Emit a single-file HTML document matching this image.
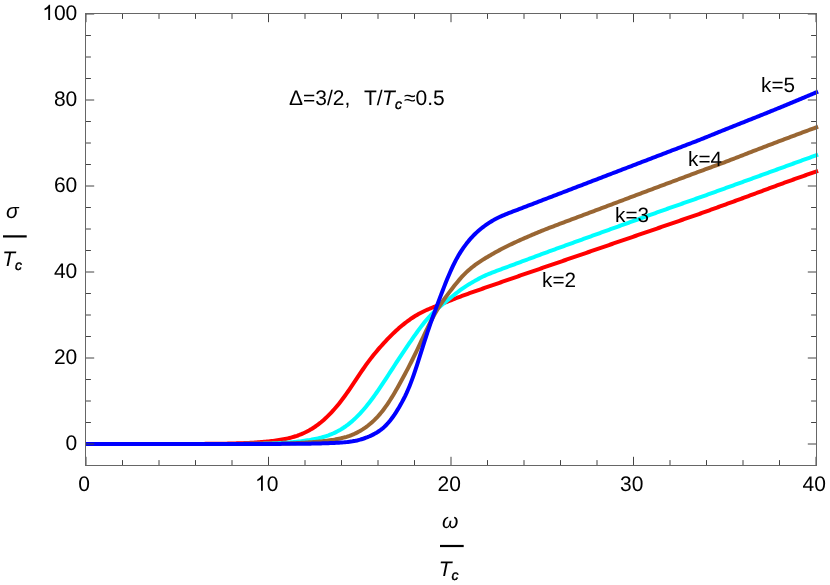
<!DOCTYPE html><html><head><meta charset="utf-8"><style>html,body{margin:0;padding:0;background:#fff}svg{display:block}text{font-family:"Liberation Sans",sans-serif;fill:#000;text-rendering:geometricPrecision}</style></head><body>
<svg width="830" height="585" viewBox="0 0 830 585">
<rect width="830" height="585" fill="#fff"/>
<g fill="none" stroke-width="4" stroke-linejoin="round">
<path d="M85.5,444.00 L87.0,444.00 L88.5,444.00 L90.0,444.00 L91.5,444.00 L93.0,444.00 L94.5,444.00 L96.0,444.00 L97.5,444.00 L99.0,444.00 L100.5,444.00 L102.0,444.00 L103.5,444.00 L105.0,444.00 L106.5,444.00 L108.0,444.00 L109.5,444.00 L111.0,444.00 L112.5,443.99 L114.0,443.99 L115.5,443.99 L117.0,443.99 L118.5,443.99 L120.0,443.99 L121.5,443.99 L123.0,443.99 L124.5,443.99 L126.0,443.99 L127.5,443.99 L129.0,443.99 L130.5,443.99 L132.0,443.99 L133.5,443.99 L135.0,443.99 L136.5,443.99 L138.0,443.99 L139.5,443.99 L141.0,443.99 L142.5,443.99 L144.0,443.99 L145.5,443.99 L147.0,443.98 L148.5,443.98 L150.0,443.98 L151.5,443.98 L153.0,443.98 L154.5,443.98 L156.0,443.98 L157.5,443.98 L159.0,443.98 L160.5,443.98 L162.0,443.98 L163.5,443.97 L165.0,443.97 L166.5,443.97 L168.0,443.97 L169.5,443.97 L171.0,443.97 L172.5,443.97 L174.0,443.96 L175.5,443.96 L177.0,443.96 L178.5,443.96 L180.0,443.95 L181.5,443.95 L183.0,443.95 L184.5,443.95 L186.0,443.94 L187.5,443.94 L189.0,443.94 L190.5,443.93 L192.0,443.93 L193.5,443.92 L195.0,443.92 L196.5,443.91 L198.0,443.91 L199.5,443.90 L201.0,443.89 L202.5,443.89 L204.0,443.88 L205.5,443.87 L207.0,443.86 L208.5,443.85 L210.0,443.84 L211.5,443.82 L213.0,443.81 L214.5,443.80 L216.0,443.78 L217.5,443.76 L219.0,443.75 L220.5,443.73 L222.0,443.70 L223.5,443.68 L225.0,443.66 L226.5,443.63 L228.0,443.60 L229.5,443.57 L231.0,443.53 L232.5,443.50 L234.0,443.46 L235.5,443.42 L237.0,443.37 L238.5,443.33 L240.0,443.28 L241.5,443.22 L243.0,443.16 L244.5,443.10 L246.0,443.03 L247.5,442.96 L249.0,442.89 L250.5,442.80 L252.0,442.72 L253.5,442.63 L255.0,442.53 L256.5,442.43 L258.0,442.32 L259.5,442.21 L261.0,442.09 L262.5,441.96 L264.0,441.83 L265.5,441.70 L267.0,441.55 L268.5,441.40 L270.0,441.24 L271.5,441.08 L273.0,440.90 L274.5,440.71 L276.0,440.51 L277.5,440.30 L279.0,440.07 L280.5,439.83 L282.0,439.57 L283.5,439.29 L285.0,439.00 L286.5,438.68 L288.0,438.34 L289.5,437.98 L291.0,437.59 L292.5,437.18 L294.0,436.74 L295.5,436.27 L297.0,435.78 L298.5,435.25 L300.0,434.68 L301.5,434.08 L303.0,433.45 L304.5,432.77 L306.0,432.05 L307.5,431.28 L309.0,430.47 L310.5,429.61 L312.0,428.71 L313.5,427.75 L315.0,426.75 L316.5,425.69 L318.0,424.59 L319.5,423.44 L321.0,422.24 L322.5,420.98 L324.0,419.67 L325.5,418.32 L327.0,416.91 L328.5,415.44 L330.0,413.92 L331.5,412.35 L333.0,410.72 L334.5,409.03 L336.0,407.29 L337.5,405.49 L339.0,403.64 L340.5,401.73 L342.0,399.78 L343.5,397.77 L345.0,395.72 L346.5,393.63 L348.0,391.51 L349.5,389.35 L351.0,387.15 L352.5,384.94 L354.0,382.70 L355.5,380.44 L357.0,378.18 L358.5,375.93 L360.0,373.68 L361.5,371.45 L363.0,369.25 L364.5,367.08 L366.0,364.96 L367.5,362.89 L369.0,360.86 L370.5,358.89 L372.0,356.96 L373.5,355.07 L375.0,353.23 L376.5,351.43 L378.0,349.67 L379.5,347.93 L381.0,346.23 L382.5,344.56 L384.0,342.92 L385.5,341.30 L387.0,339.71 L388.5,338.15 L390.0,336.61 L391.5,335.11 L393.0,333.63 L394.5,332.20 L396.0,330.79 L397.5,329.43 L399.0,328.10 L400.5,326.81 L402.0,325.55 L403.5,324.33 L405.0,323.14 L406.5,321.99 L408.0,320.87 L409.5,319.78 L411.0,318.73 L412.5,317.72 L414.0,316.74 L415.5,315.81 L417.0,314.91 L418.5,314.05 L420.0,313.23 L421.5,312.45 L423.0,311.70 L424.5,310.99 L426.0,310.30 L427.5,309.64 L429.0,309.00 L430.5,308.37 L432.0,307.76 L433.5,307.15 L435.0,306.55 L436.5,305.95 L438.0,305.36 L439.5,304.76 L441.0,304.17 L442.5,303.57 L444.0,302.98 L445.5,302.39 L447.0,301.79 L448.5,301.20 L450.0,300.61 L451.5,300.02 L453.0,299.43 L454.5,298.84 L456.0,298.25 L457.5,297.67 L459.0,297.09 L460.5,296.52 L462.0,295.96 L463.5,295.40 L465.0,294.84 L466.5,294.30 L468.0,293.76 L469.5,293.22 L471.0,292.69 L472.5,292.17 L474.0,291.64 L475.5,291.12 L477.0,290.59 L478.5,290.07 L480.0,289.55 L481.5,289.03 L483.0,288.51 L484.5,287.98 L486.0,287.46 L487.5,286.94 L489.0,286.42 L490.5,285.90 L492.0,285.38 L493.5,284.86 L495.0,284.33 L496.5,283.81 L498.0,283.29 L499.5,282.77 L501.0,282.25 L502.5,281.73 L504.0,281.21 L505.5,280.68 L507.0,280.16 L508.5,279.64 L510.0,279.12 L511.5,278.60 L513.0,278.08 L514.5,277.56 L516.0,277.04 L517.5,276.52 L519.0,276.00 L520.5,275.48 L522.0,274.96 L523.5,274.44 L525.0,273.93 L526.5,273.41 L528.0,272.89 L529.5,272.38 L531.0,271.86 L532.5,271.35 L534.0,270.83 L535.5,270.31 L537.0,269.80 L538.5,269.28 L540.0,268.77 L541.5,268.25 L543.0,267.73 L544.5,267.22 L546.0,266.70 L547.5,266.19 L549.0,265.67 L550.5,265.15 L552.0,264.64 L553.5,264.12 L555.0,263.61 L556.5,263.09 L558.0,262.57 L559.5,262.06 L561.0,261.54 L562.5,261.03 L564.0,260.51 L565.5,259.99 L567.0,259.48 L568.5,258.96 L570.0,258.45 L571.5,257.93 L573.0,257.41 L574.5,256.90 L576.0,256.38 L577.5,255.87 L579.0,255.35 L580.5,254.83 L582.0,254.32 L583.5,253.80 L585.0,253.29 L586.5,252.77 L588.0,252.25 L589.5,251.74 L591.0,251.22 L592.5,250.71 L594.0,250.19 L595.5,249.67 L597.0,249.16 L598.5,248.64 L600.0,248.13 L601.5,247.61 L603.0,247.09 L604.5,246.58 L606.0,246.06 L607.5,245.55 L609.0,245.03 L610.5,244.51 L612.0,244.00 L613.5,243.48 L615.0,242.97 L616.5,242.45 L618.0,241.93 L619.5,241.42 L621.0,240.90 L622.5,240.39 L624.0,239.87 L625.5,239.35 L627.0,238.84 L628.5,238.32 L630.0,237.81 L631.5,237.29 L633.0,236.77 L634.5,236.26 L636.0,235.74 L637.5,235.23 L639.0,234.71 L640.5,234.19 L642.0,233.68 L643.5,233.16 L645.0,232.65 L646.5,232.13 L648.0,231.61 L649.5,231.10 L651.0,230.58 L652.5,230.07 L654.0,229.55 L655.5,229.03 L657.0,228.52 L658.5,228.00 L660.0,227.49 L661.5,226.97 L663.0,226.45 L664.5,225.94 L666.0,225.42 L667.5,224.91 L669.0,224.39 L670.5,223.87 L672.0,223.36 L673.5,222.84 L675.0,222.33 L676.5,221.81 L678.0,221.29 L679.5,220.78 L681.0,220.26 L682.5,219.75 L684.0,219.23 L685.5,218.71 L687.0,218.20 L688.5,217.68 L690.0,217.16 L691.5,216.65 L693.0,216.13 L694.5,215.61 L696.0,215.09 L697.5,214.57 L699.0,214.04 L700.5,213.51 L702.0,212.97 L703.5,212.44 L705.0,211.90 L706.5,211.36 L708.0,210.81 L709.5,210.27 L711.0,209.73 L712.5,209.18 L714.0,208.64 L715.5,208.09 L717.0,207.55 L718.5,207.00 L720.0,206.46 L721.5,205.91 L723.0,205.37 L724.5,204.82 L726.0,204.28 L727.5,203.73 L729.0,203.19 L730.5,202.64 L732.0,202.10 L733.5,201.55 L735.0,201.00 L736.5,200.45 L738.0,199.90 L739.5,199.35 L741.0,198.80 L742.5,198.25 L744.0,197.70 L745.5,197.14 L747.0,196.59 L748.5,196.03 L750.0,195.48 L751.5,194.92 L753.0,194.36 L754.5,193.81 L756.0,193.25 L757.5,192.69 L759.0,192.13 L760.5,191.57 L762.0,191.01 L763.5,190.46 L765.0,189.90 L766.5,189.34 L768.0,188.78 L769.5,188.23 L771.0,187.67 L772.5,187.12 L774.0,186.56 L775.5,186.01 L777.0,185.46 L778.5,184.91 L780.0,184.36 L781.5,183.81 L783.0,183.26 L784.5,182.72 L786.0,182.18 L787.5,181.64 L789.0,181.10 L790.5,180.56 L792.0,180.02 L793.5,179.49 L795.0,178.95 L796.5,178.42 L798.0,177.89 L799.5,177.36 L801.0,176.83 L802.5,176.30 L804.0,175.78 L805.5,175.25 L807.0,174.73 L808.5,174.21 L810.0,173.69 L811.5,173.17 L813.0,172.66 L814.5,172.14 L816.0,171.63 L816.5,171.46 L818.1,170.90" stroke="#ff0000"/>
<path d="M85.5,444.00 L87.0,444.00 L88.5,444.00 L90.0,444.00 L91.5,444.00 L93.0,444.00 L94.5,444.00 L96.0,444.00 L97.5,444.00 L99.0,444.00 L100.5,444.00 L102.0,444.00 L103.5,444.00 L105.0,444.00 L106.5,444.00 L108.0,444.00 L109.5,444.00 L111.0,444.00 L112.5,444.00 L114.0,444.00 L115.5,444.00 L117.0,444.00 L118.5,443.99 L120.0,443.99 L121.5,443.99 L123.0,443.99 L124.5,443.99 L126.0,443.99 L127.5,443.99 L129.0,443.99 L130.5,443.99 L132.0,443.99 L133.5,443.99 L135.0,443.99 L136.5,443.99 L138.0,443.99 L139.5,443.99 L141.0,443.99 L142.5,443.99 L144.0,443.99 L145.5,443.99 L147.0,443.99 L148.5,443.99 L150.0,443.99 L151.5,443.99 L153.0,443.99 L154.5,443.99 L156.0,443.99 L157.5,443.99 L159.0,443.99 L160.5,443.99 L162.0,443.99 L163.5,443.99 L165.0,443.99 L166.5,443.99 L168.0,443.99 L169.5,443.99 L171.0,443.99 L172.5,443.99 L174.0,443.98 L175.5,443.98 L177.0,443.98 L178.5,443.98 L180.0,443.98 L181.5,443.98 L183.0,443.98 L184.5,443.98 L186.0,443.98 L187.5,443.98 L189.0,443.98 L190.5,443.98 L192.0,443.98 L193.5,443.98 L195.0,443.98 L196.5,443.98 L198.0,443.98 L199.5,443.97 L201.0,443.97 L202.5,443.97 L204.0,443.97 L205.5,443.97 L207.0,443.97 L208.5,443.97 L210.0,443.97 L211.5,443.96 L213.0,443.96 L214.5,443.96 L216.0,443.96 L217.5,443.96 L219.0,443.95 L220.5,443.95 L222.0,443.95 L223.5,443.95 L225.0,443.94 L226.5,443.94 L228.0,443.94 L229.5,443.93 L231.0,443.93 L232.5,443.92 L234.0,443.92 L235.5,443.91 L237.0,443.91 L238.5,443.90 L240.0,443.89 L241.5,443.89 L243.0,443.88 L244.5,443.87 L246.0,443.86 L247.5,443.85 L249.0,443.83 L250.5,443.82 L252.0,443.80 L253.5,443.79 L255.0,443.77 L256.5,443.75 L258.0,443.72 L259.5,443.70 L261.0,443.67 L262.5,443.64 L264.0,443.61 L265.5,443.58 L267.0,443.54 L268.5,443.50 L270.0,443.46 L271.5,443.41 L273.0,443.36 L274.5,443.30 L276.0,443.24 L277.5,443.17 L279.0,443.10 L280.5,443.03 L282.0,442.95 L283.5,442.86 L285.0,442.76 L286.5,442.66 L288.0,442.55 L289.5,442.44 L291.0,442.31 L292.5,442.18 L294.0,442.04 L295.5,441.89 L297.0,441.73 L298.5,441.57 L300.0,441.39 L301.5,441.20 L303.0,441.01 L304.5,440.80 L306.0,440.58 L307.5,440.35 L309.0,440.11 L310.5,439.86 L312.0,439.59 L313.5,439.30 L315.0,439.00 L316.5,438.69 L318.0,438.35 L319.5,437.99 L321.0,437.61 L322.5,437.20 L324.0,436.77 L325.5,436.30 L327.0,435.81 L328.5,435.29 L330.0,434.72 L331.5,434.13 L333.0,433.49 L334.5,432.81 L336.0,432.09 L337.5,431.33 L339.0,430.51 L340.5,429.65 L342.0,428.74 L343.5,427.78 L345.0,426.77 L346.5,425.70 L348.0,424.58 L349.5,423.40 L351.0,422.17 L352.5,420.88 L354.0,419.53 L355.5,418.12 L357.0,416.66 L358.5,415.14 L360.0,413.57 L361.5,411.94 L363.0,410.25 L364.5,408.51 L366.0,406.71 L367.5,404.86 L369.0,402.96 L370.5,401.00 L372.0,399.00 L373.5,396.95 L375.0,394.86 L376.5,392.73 L378.0,390.56 L379.5,388.36 L381.0,386.14 L382.5,383.89 L384.0,381.62 L385.5,379.33 L387.0,377.04 L388.5,374.73 L390.0,372.42 L391.5,370.11 L393.0,367.79 L394.5,365.48 L396.0,363.17 L397.5,360.87 L399.0,358.58 L400.5,356.31 L402.0,354.04 L403.5,351.79 L405.0,349.56 L406.5,347.34 L408.0,345.13 L409.5,342.94 L411.0,340.76 L412.5,338.60 L414.0,336.46 L415.5,334.34 L417.0,332.24 L418.5,330.17 L420.0,328.14 L421.5,326.15 L423.0,324.22 L424.5,322.34 L426.0,320.53 L427.5,318.78 L429.0,317.11 L430.5,315.50 L432.0,313.96 L433.5,312.48 L435.0,311.05 L436.5,309.67 L438.0,308.33 L439.5,307.02 L441.0,305.73 L442.5,304.46 L444.0,303.20 L445.5,301.95 L447.0,300.70 L448.5,299.47 L450.0,298.23 L451.5,297.01 L453.0,295.79 L454.5,294.58 L456.0,293.39 L457.5,292.22 L459.0,291.08 L460.5,289.97 L462.0,288.89 L463.5,287.85 L465.0,286.84 L466.5,285.87 L468.0,284.93 L469.5,284.01 L471.0,283.11 L472.5,282.23 L474.0,281.37 L475.5,280.52 L477.0,279.69 L478.5,278.88 L480.0,278.09 L481.5,277.33 L483.0,276.58 L484.5,275.87 L486.0,275.19 L487.5,274.53 L489.0,273.90 L490.5,273.29 L492.0,272.69 L493.5,272.11 L495.0,271.54 L496.5,270.97 L498.0,270.41 L499.5,269.85 L501.0,269.29 L502.5,268.73 L504.0,268.18 L505.5,267.62 L507.0,267.06 L508.5,266.50 L510.0,265.94 L511.5,265.39 L513.0,264.83 L514.5,264.27 L516.0,263.71 L517.5,263.15 L519.0,262.60 L520.5,262.04 L522.0,261.48 L523.5,260.92 L525.0,260.37 L526.5,259.81 L528.0,259.25 L529.5,258.69 L531.0,258.13 L532.5,257.58 L534.0,257.02 L535.5,256.46 L537.0,255.90 L538.5,255.35 L540.0,254.79 L541.5,254.23 L543.0,253.68 L544.5,253.12 L546.0,252.57 L547.5,252.02 L549.0,251.47 L550.5,250.92 L552.0,250.37 L553.5,249.82 L555.0,249.27 L556.5,248.72 L558.0,248.18 L559.5,247.64 L561.0,247.09 L562.5,246.55 L564.0,246.01 L565.5,245.47 L567.0,244.92 L568.5,244.38 L570.0,243.84 L571.5,243.30 L573.0,242.76 L574.5,242.22 L576.0,241.68 L577.5,241.14 L579.0,240.60 L580.5,240.06 L582.0,239.52 L583.5,238.98 L585.0,238.44 L586.5,237.90 L588.0,237.35 L589.5,236.81 L591.0,236.27 L592.5,235.73 L594.0,235.19 L595.5,234.65 L597.0,234.11 L598.5,233.57 L600.0,233.03 L601.5,232.49 L603.0,231.95 L604.5,231.41 L606.0,230.87 L607.5,230.33 L609.0,229.79 L610.5,229.24 L612.0,228.70 L613.5,228.16 L615.0,227.62 L616.5,227.08 L618.0,226.54 L619.5,226.00 L621.0,225.46 L622.5,224.92 L624.0,224.38 L625.5,223.84 L627.0,223.30 L628.5,222.76 L630.0,222.22 L631.5,221.68 L633.0,221.13 L634.5,220.59 L636.0,220.05 L637.5,219.51 L639.0,218.97 L640.5,218.43 L642.0,217.89 L643.5,217.35 L645.0,216.81 L646.5,216.27 L648.0,215.73 L649.5,215.19 L651.0,214.65 L652.5,214.11 L654.0,213.57 L655.5,213.03 L657.0,212.49 L658.5,211.95 L660.0,211.42 L661.5,210.88 L663.0,210.35 L664.5,209.81 L666.0,209.28 L667.5,208.75 L669.0,208.22 L670.5,207.70 L672.0,207.17 L673.5,206.64 L675.0,206.12 L676.5,205.59 L678.0,205.07 L679.5,204.54 L681.0,204.02 L682.5,203.49 L684.0,202.97 L685.5,202.44 L687.0,201.92 L688.5,201.39 L690.0,200.87 L691.5,200.34 L693.0,199.81 L694.5,199.29 L696.0,198.76 L697.5,198.23 L699.0,197.70 L700.5,197.17 L702.0,196.63 L703.5,196.10 L705.0,195.56 L706.5,195.02 L708.0,194.48 L709.5,193.94 L711.0,193.40 L712.5,192.86 L714.0,192.31 L715.5,191.77 L717.0,191.23 L718.5,190.69 L720.0,190.15 L721.5,189.61 L723.0,189.07 L724.5,188.53 L726.0,187.99 L727.5,187.44 L729.0,186.90 L730.5,186.36 L732.0,185.82 L733.5,185.28 L735.0,184.74 L736.5,184.20 L738.0,183.65 L739.5,183.11 L741.0,182.57 L742.5,182.03 L744.0,181.48 L745.5,180.94 L747.0,180.40 L748.5,179.85 L750.0,179.31 L751.5,178.77 L753.0,178.22 L754.5,177.68 L756.0,177.13 L757.5,176.59 L759.0,176.04 L760.5,175.50 L762.0,174.95 L763.5,174.41 L765.0,173.86 L766.5,173.32 L768.0,172.77 L769.5,172.23 L771.0,171.68 L772.5,171.14 L774.0,170.59 L775.5,170.05 L777.0,169.50 L778.5,168.96 L780.0,168.41 L781.5,167.86 L783.0,167.32 L784.5,166.77 L786.0,166.23 L787.5,165.68 L789.0,165.14 L790.5,164.59 L792.0,164.05 L793.5,163.50 L795.0,162.96 L796.5,162.41 L798.0,161.87 L799.5,161.32 L801.0,160.78 L802.5,160.23 L804.0,159.69 L805.5,159.14 L807.0,158.60 L808.5,158.06 L810.0,157.52 L811.5,156.98 L813.0,156.44 L814.5,155.90 L816.0,155.36 L816.5,155.18 L818.1,154.60" stroke="#00ffff"/>
<path d="M85.5,444.00 L87.0,444.00 L88.5,444.00 L90.0,444.00 L91.5,444.00 L93.0,444.00 L94.5,444.00 L96.0,444.00 L97.5,444.00 L99.0,444.00 L100.5,444.00 L102.0,444.00 L103.5,444.00 L105.0,444.00 L106.5,444.00 L108.0,444.00 L109.5,444.00 L111.0,444.00 L112.5,443.99 L114.0,443.99 L115.5,443.99 L117.0,443.99 L118.5,443.99 L120.0,443.99 L121.5,443.99 L123.0,443.99 L124.5,443.99 L126.0,443.99 L127.5,443.99 L129.0,443.99 L130.5,443.99 L132.0,443.99 L133.5,443.99 L135.0,443.99 L136.5,443.99 L138.0,443.99 L139.5,443.99 L141.0,443.99 L142.5,443.99 L144.0,443.99 L145.5,443.99 L147.0,443.99 L148.5,443.99 L150.0,443.99 L151.5,443.99 L153.0,443.99 L154.5,443.99 L156.0,443.99 L157.5,443.99 L159.0,443.99 L160.5,443.99 L162.0,443.99 L163.5,443.98 L165.0,443.98 L166.5,443.98 L168.0,443.98 L169.5,443.98 L171.0,443.98 L172.5,443.98 L174.0,443.98 L175.5,443.98 L177.0,443.98 L178.5,443.98 L180.0,443.98 L181.5,443.98 L183.0,443.98 L184.5,443.98 L186.0,443.98 L187.5,443.98 L189.0,443.98 L190.5,443.98 L192.0,443.98 L193.5,443.98 L195.0,443.98 L196.5,443.97 L198.0,443.97 L199.5,443.97 L201.0,443.97 L202.5,443.97 L204.0,443.97 L205.5,443.97 L207.0,443.97 L208.5,443.97 L210.0,443.97 L211.5,443.97 L213.0,443.97 L214.5,443.96 L216.0,443.96 L217.5,443.96 L219.0,443.96 L220.5,443.96 L222.0,443.96 L223.5,443.96 L225.0,443.96 L226.5,443.95 L228.0,443.95 L229.5,443.95 L231.0,443.95 L232.5,443.95 L234.0,443.94 L235.5,443.94 L237.0,443.94 L238.5,443.94 L240.0,443.93 L241.5,443.93 L243.0,443.93 L244.5,443.92 L246.0,443.92 L247.5,443.92 L249.0,443.91 L250.5,443.91 L252.0,443.90 L253.5,443.90 L255.0,443.89 L256.5,443.89 L258.0,443.88 L259.5,443.87 L261.0,443.86 L262.5,443.86 L264.0,443.85 L265.5,443.84 L267.0,443.82 L268.5,443.81 L270.0,443.80 L271.5,443.78 L273.0,443.76 L274.5,443.74 L276.0,443.72 L277.5,443.70 L279.0,443.67 L280.5,443.64 L282.0,443.61 L283.5,443.57 L285.0,443.53 L286.5,443.48 L288.0,443.44 L289.5,443.38 L291.0,443.33 L292.5,443.27 L294.0,443.20 L295.5,443.13 L297.0,443.06 L298.5,442.99 L300.0,442.91 L301.5,442.82 L303.0,442.74 L304.5,442.65 L306.0,442.55 L307.5,442.45 L309.0,442.35 L310.5,442.25 L312.0,442.14 L313.5,442.02 L315.0,441.90 L316.5,441.78 L318.0,441.65 L319.5,441.51 L321.0,441.37 L322.5,441.21 L324.0,441.05 L325.5,440.88 L327.0,440.70 L328.5,440.51 L330.0,440.31 L331.5,440.09 L333.0,439.86 L334.5,439.61 L336.0,439.34 L337.5,439.06 L339.0,438.75 L340.5,438.42 L342.0,438.06 L343.5,437.68 L345.0,437.27 L346.5,436.83 L348.0,436.35 L349.5,435.84 L351.0,435.28 L352.5,434.69 L354.0,434.05 L355.5,433.36 L357.0,432.63 L358.5,431.84 L360.0,431.01 L361.5,430.11 L363.0,429.17 L364.5,428.16 L366.0,427.10 L367.5,425.98 L369.0,424.79 L370.5,423.55 L372.0,422.23 L373.5,420.85 L375.0,419.39 L376.5,417.86 L378.0,416.26 L379.5,414.56 L381.0,412.79 L382.5,410.93 L384.0,408.97 L385.5,406.93 L387.0,404.80 L388.5,402.57 L390.0,400.27 L391.5,397.89 L393.0,395.43 L394.5,392.91 L396.0,390.33 L397.5,387.70 L399.0,385.03 L400.5,382.32 L402.0,379.58 L403.5,376.81 L405.0,374.01 L406.5,371.18 L408.0,368.32 L409.5,365.41 L411.0,362.47 L412.5,359.48 L414.0,356.45 L415.5,353.37 L417.0,350.25 L418.5,347.09 L420.0,343.90 L421.5,340.69 L423.0,337.48 L424.5,334.29 L426.0,331.12 L427.5,328.01 L429.0,324.95 L430.5,321.98 L432.0,319.08 L433.5,316.29 L435.0,313.60 L436.5,311.01 L438.0,308.53 L439.5,306.14 L441.0,303.85 L442.5,301.63 L444.0,299.49 L445.5,297.41 L447.0,295.37 L448.5,293.36 L450.0,291.39 L451.5,289.44 L453.0,287.51 L454.5,285.60 L456.0,283.73 L457.5,281.89 L459.0,280.11 L460.5,278.37 L462.0,276.71 L463.5,275.11 L465.0,273.58 L466.5,272.13 L468.0,270.74 L469.5,269.42 L471.0,268.16 L472.5,266.96 L474.0,265.80 L475.5,264.69 L477.0,263.62 L478.5,262.58 L480.0,261.58 L481.5,260.61 L483.0,259.66 L484.5,258.73 L486.0,257.82 L487.5,256.92 L489.0,256.04 L490.5,255.16 L492.0,254.30 L493.5,253.44 L495.0,252.59 L496.5,251.76 L498.0,250.93 L499.5,250.12 L501.0,249.32 L502.5,248.54 L504.0,247.77 L505.5,247.01 L507.0,246.26 L508.5,245.52 L510.0,244.80 L511.5,244.08 L513.0,243.37 L514.5,242.67 L516.0,241.97 L517.5,241.28 L519.0,240.60 L520.5,239.93 L522.0,239.26 L523.5,238.60 L525.0,237.94 L526.5,237.29 L528.0,236.63 L529.5,235.99 L531.0,235.34 L532.5,234.70 L534.0,234.06 L535.5,233.43 L537.0,232.80 L538.5,232.18 L540.0,231.56 L541.5,230.95 L543.0,230.34 L544.5,229.74 L546.0,229.15 L547.5,228.56 L549.0,227.98 L550.5,227.40 L552.0,226.83 L553.5,226.26 L555.0,225.69 L556.5,225.12 L558.0,224.56 L559.5,223.99 L561.0,223.43 L562.5,222.86 L564.0,222.30 L565.5,221.74 L567.0,221.17 L568.5,220.61 L570.0,220.04 L571.5,219.48 L573.0,218.92 L574.5,218.35 L576.0,217.79 L577.5,217.23 L579.0,216.66 L580.5,216.10 L582.0,215.53 L583.5,214.97 L585.0,214.41 L586.5,213.84 L588.0,213.28 L589.5,212.71 L591.0,212.15 L592.5,211.59 L594.0,211.02 L595.5,210.46 L597.0,209.90 L598.5,209.33 L600.0,208.77 L601.5,208.20 L603.0,207.64 L604.5,207.08 L606.0,206.51 L607.5,205.95 L609.0,205.38 L610.5,204.82 L612.0,204.26 L613.5,203.69 L615.0,203.13 L616.5,202.56 L618.0,202.00 L619.5,201.44 L621.0,200.87 L622.5,200.31 L624.0,199.75 L625.5,199.18 L627.0,198.62 L628.5,198.05 L630.0,197.49 L631.5,196.93 L633.0,196.36 L634.5,195.80 L636.0,195.24 L637.5,194.67 L639.0,194.11 L640.5,193.55 L642.0,192.98 L643.5,192.42 L645.0,191.86 L646.5,191.30 L648.0,190.74 L649.5,190.17 L651.0,189.61 L652.5,189.05 L654.0,188.49 L655.5,187.93 L657.0,187.36 L658.5,186.80 L660.0,186.24 L661.5,185.68 L663.0,185.12 L664.5,184.56 L666.0,183.99 L667.5,183.43 L669.0,182.87 L670.5,182.31 L672.0,181.75 L673.5,181.19 L675.0,180.63 L676.5,180.07 L678.0,179.50 L679.5,178.94 L681.0,178.38 L682.5,177.82 L684.0,177.26 L685.5,176.70 L687.0,176.14 L688.5,175.58 L690.0,175.02 L691.5,174.46 L693.0,173.90 L694.5,173.34 L696.0,172.79 L697.5,172.23 L699.0,171.67 L700.5,171.12 L702.0,170.57 L703.5,170.02 L705.0,169.47 L706.5,168.92 L708.0,168.37 L709.5,167.82 L711.0,167.27 L712.5,166.72 L714.0,166.17 L715.5,165.62 L717.0,165.07 L718.5,164.51 L720.0,163.95 L721.5,163.39 L723.0,162.83 L724.5,162.26 L726.0,161.69 L727.5,161.12 L729.0,160.55 L730.5,159.98 L732.0,159.40 L733.5,158.83 L735.0,158.25 L736.5,157.67 L738.0,157.09 L739.5,156.50 L741.0,155.92 L742.5,155.33 L744.0,154.75 L745.5,154.16 L747.0,153.57 L748.5,152.99 L750.0,152.40 L751.5,151.82 L753.0,151.24 L754.5,150.66 L756.0,150.08 L757.5,149.50 L759.0,148.92 L760.5,148.35 L762.0,147.77 L763.5,147.20 L765.0,146.62 L766.5,146.05 L768.0,145.48 L769.5,144.91 L771.0,144.33 L772.5,143.76 L774.0,143.19 L775.5,142.62 L777.0,142.05 L778.5,141.48 L780.0,140.92 L781.5,140.35 L783.0,139.78 L784.5,139.21 L786.0,138.65 L787.5,138.08 L789.0,137.52 L790.5,136.95 L792.0,136.39 L793.5,135.83 L795.0,135.27 L796.5,134.71 L798.0,134.15 L799.5,133.59 L801.0,133.03 L802.5,132.47 L804.0,131.92 L805.5,131.36 L807.0,130.81 L808.5,130.25 L810.0,129.70 L811.5,129.15 L813.0,128.60 L814.5,128.05 L816.0,127.50 L816.5,127.31 L818.1,126.72" stroke="#996633"/>
<path d="M85.5,444.00 L87.0,444.00 L88.5,444.00 L90.0,444.00 L91.5,444.00 L93.0,444.00 L94.5,444.00 L96.0,444.00 L97.5,444.00 L99.0,444.00 L100.5,444.00 L102.0,444.00 L103.5,444.00 L105.0,444.00 L106.5,444.00 L108.0,444.00 L109.5,444.00 L111.0,444.00 L112.5,443.99 L114.0,443.99 L115.5,443.99 L117.0,443.99 L118.5,443.99 L120.0,443.99 L121.5,443.99 L123.0,443.99 L124.5,443.99 L126.0,443.99 L127.5,443.99 L129.0,443.99 L130.5,443.99 L132.0,443.99 L133.5,443.99 L135.0,443.99 L136.5,443.99 L138.0,443.99 L139.5,443.99 L141.0,443.99 L142.5,443.99 L144.0,443.99 L145.5,443.99 L147.0,443.99 L148.5,443.99 L150.0,443.99 L151.5,443.99 L153.0,443.99 L154.5,443.99 L156.0,443.99 L157.5,443.99 L159.0,443.99 L160.5,443.99 L162.0,443.99 L163.5,443.98 L165.0,443.98 L166.5,443.98 L168.0,443.98 L169.5,443.98 L171.0,443.98 L172.5,443.98 L174.0,443.98 L175.5,443.98 L177.0,443.98 L178.5,443.98 L180.0,443.98 L181.5,443.98 L183.0,443.98 L184.5,443.98 L186.0,443.98 L187.5,443.98 L189.0,443.98 L190.5,443.98 L192.0,443.98 L193.5,443.98 L195.0,443.98 L196.5,443.98 L198.0,443.98 L199.5,443.98 L201.0,443.98 L202.5,443.98 L204.0,443.97 L205.5,443.97 L207.0,443.97 L208.5,443.97 L210.0,443.97 L211.5,443.97 L213.0,443.97 L214.5,443.97 L216.0,443.97 L217.5,443.97 L219.0,443.97 L220.5,443.97 L222.0,443.97 L223.5,443.97 L225.0,443.97 L226.5,443.96 L228.0,443.96 L229.5,443.96 L231.0,443.96 L232.5,443.96 L234.0,443.96 L235.5,443.96 L237.0,443.96 L238.5,443.96 L240.0,443.95 L241.5,443.95 L243.0,443.95 L244.5,443.95 L246.0,443.95 L247.5,443.95 L249.0,443.95 L250.5,443.94 L252.0,443.94 L253.5,443.94 L255.0,443.94 L256.5,443.94 L258.0,443.93 L259.5,443.93 L261.0,443.93 L262.5,443.93 L264.0,443.92 L265.5,443.92 L267.0,443.92 L268.5,443.91 L270.0,443.91 L271.5,443.90 L273.0,443.90 L274.5,443.90 L276.0,443.89 L277.5,443.89 L279.0,443.88 L280.5,443.88 L282.0,443.87 L283.5,443.86 L285.0,443.86 L286.5,443.85 L288.0,443.84 L289.5,443.83 L291.0,443.82 L292.5,443.81 L294.0,443.80 L295.5,443.79 L297.0,443.78 L298.5,443.77 L300.0,443.76 L301.5,443.74 L303.0,443.73 L304.5,443.71 L306.0,443.69 L307.5,443.67 L309.0,443.65 L310.5,443.63 L312.0,443.60 L313.5,443.57 L315.0,443.55 L316.5,443.52 L318.0,443.48 L319.5,443.45 L321.0,443.41 L322.5,443.37 L324.0,443.33 L325.5,443.28 L327.0,443.23 L328.5,443.18 L330.0,443.12 L331.5,443.06 L333.0,443.00 L334.5,442.93 L336.0,442.86 L337.5,442.78 L339.0,442.69 L340.5,442.60 L342.0,442.50 L343.5,442.38 L345.0,442.26 L346.5,442.12 L348.0,441.96 L349.5,441.78 L351.0,441.57 L352.5,441.34 L354.0,441.07 L355.5,440.78 L357.0,440.45 L358.5,440.08 L360.0,439.68 L361.5,439.24 L363.0,438.77 L364.5,438.25 L366.0,437.70 L367.5,437.12 L369.0,436.50 L370.5,435.83 L372.0,435.13 L373.5,434.37 L375.0,433.57 L376.5,432.70 L378.0,431.77 L379.5,430.76 L381.0,429.66 L382.5,428.47 L384.0,427.16 L385.5,425.74 L387.0,424.20 L388.5,422.53 L390.0,420.72 L391.5,418.79 L393.0,416.74 L394.5,414.57 L396.0,412.29 L397.5,409.91 L399.0,407.42 L400.5,404.83 L402.0,402.12 L403.5,399.28 L405.0,396.29 L406.5,393.12 L408.0,389.75 L409.5,386.17 L411.0,382.37 L412.5,378.34 L414.0,374.11 L415.5,369.69 L417.0,365.12 L418.5,360.43 L420.0,355.68 L421.5,350.90 L423.0,346.13 L424.5,341.42 L426.0,336.78 L427.5,332.24 L429.0,327.80 L430.5,323.46 L432.0,319.21 L433.5,315.04 L435.0,310.94 L436.5,306.88 L438.0,302.86 L439.5,298.87 L441.0,294.91 L442.5,290.99 L444.0,287.12 L445.5,283.31 L447.0,279.58 L448.5,275.95 L450.0,272.45 L451.5,269.08 L453.0,265.86 L454.5,262.81 L456.0,259.91 L457.5,257.18 L459.0,254.59 L460.5,252.15 L462.0,249.84 L463.5,247.65 L465.0,245.57 L466.5,243.58 L468.0,241.69 L469.5,239.89 L471.0,238.17 L472.5,236.54 L474.0,234.98 L475.5,233.51 L477.0,232.11 L478.5,230.77 L480.0,229.50 L481.5,228.28 L483.0,227.12 L484.5,226.00 L486.0,224.92 L487.5,223.89 L489.0,222.89 L490.5,221.93 L492.0,221.02 L493.5,220.14 L495.0,219.30 L496.5,218.51 L498.0,217.75 L499.5,217.03 L501.0,216.34 L502.5,215.68 L504.0,215.04 L505.5,214.43 L507.0,213.82 L508.5,213.23 L510.0,212.65 L511.5,212.07 L513.0,211.49 L514.5,210.91 L516.0,210.34 L517.5,209.76 L519.0,209.19 L520.5,208.61 L522.0,208.04 L523.5,207.46 L525.0,206.88 L526.5,206.31 L528.0,205.73 L529.5,205.16 L531.0,204.58 L532.5,204.01 L534.0,203.43 L535.5,202.86 L537.0,202.28 L538.5,201.70 L540.0,201.13 L541.5,200.55 L543.0,199.98 L544.5,199.40 L546.0,198.83 L547.5,198.25 L549.0,197.68 L550.5,197.10 L552.0,196.52 L553.5,195.95 L555.0,195.37 L556.5,194.80 L558.0,194.22 L559.5,193.65 L561.0,193.07 L562.5,192.50 L564.0,191.92 L565.5,191.34 L567.0,190.77 L568.5,190.19 L570.0,189.62 L571.5,189.04 L573.0,188.47 L574.5,187.89 L576.0,187.32 L577.5,186.74 L579.0,186.16 L580.5,185.59 L582.0,185.01 L583.5,184.44 L585.0,183.86 L586.5,183.29 L588.0,182.71 L589.5,182.14 L591.0,181.56 L592.5,180.99 L594.0,180.41 L595.5,179.83 L597.0,179.26 L598.5,178.68 L600.0,178.11 L601.5,177.53 L603.0,176.96 L604.5,176.38 L606.0,175.81 L607.5,175.23 L609.0,174.65 L610.5,174.08 L612.0,173.50 L613.5,172.93 L615.0,172.35 L616.5,171.78 L618.0,171.20 L619.5,170.63 L621.0,170.05 L622.5,169.47 L624.0,168.90 L625.5,168.32 L627.0,167.75 L628.5,167.17 L630.0,166.60 L631.5,166.02 L633.0,165.45 L634.5,164.87 L636.0,164.29 L637.5,163.72 L639.0,163.14 L640.5,162.57 L642.0,161.99 L643.5,161.42 L645.0,160.84 L646.5,160.27 L648.0,159.69 L649.5,159.11 L651.0,158.54 L652.5,157.96 L654.0,157.39 L655.5,156.81 L657.0,156.24 L658.5,155.66 L660.0,155.09 L661.5,154.51 L663.0,153.93 L664.5,153.36 L666.0,152.78 L667.5,152.21 L669.0,151.63 L670.5,151.06 L672.0,150.48 L673.5,149.91 L675.0,149.33 L676.5,148.76 L678.0,148.18 L679.5,147.60 L681.0,147.03 L682.5,146.45 L684.0,145.88 L685.5,145.30 L687.0,144.73 L688.5,144.15 L690.0,143.57 L691.5,143.00 L693.0,142.42 L694.5,141.84 L696.0,141.26 L697.5,140.67 L699.0,140.09 L700.5,139.49 L702.0,138.90 L703.5,138.30 L705.0,137.69 L706.5,137.09 L708.0,136.48 L709.5,135.87 L711.0,135.26 L712.5,134.65 L714.0,134.05 L715.5,133.44 L717.0,132.83 L718.5,132.22 L720.0,131.62 L721.5,131.01 L723.0,130.41 L724.5,129.80 L726.0,129.20 L727.5,128.60 L729.0,127.99 L730.5,127.39 L732.0,126.79 L733.5,126.20 L735.0,125.60 L736.5,125.00 L738.0,124.40 L739.5,123.81 L741.0,123.21 L742.5,122.62 L744.0,122.02 L745.5,121.43 L747.0,120.83 L748.5,120.23 L750.0,119.64 L751.5,119.04 L753.0,118.45 L754.5,117.85 L756.0,117.25 L757.5,116.65 L759.0,116.05 L760.5,115.45 L762.0,114.85 L763.5,114.25 L765.0,113.64 L766.5,113.04 L768.0,112.43 L769.5,111.82 L771.0,111.22 L772.5,110.61 L774.0,109.99 L775.5,109.38 L777.0,108.77 L778.5,108.15 L780.0,107.54 L781.5,106.92 L783.0,106.31 L784.5,105.69 L786.0,105.07 L787.5,104.45 L789.0,103.83 L790.5,103.20 L792.0,102.58 L793.5,101.95 L795.0,101.33 L796.5,100.70 L798.0,100.07 L799.5,99.45 L801.0,98.82 L802.5,98.18 L804.0,97.55 L805.5,96.92 L807.0,96.28 L808.5,95.65 L810.0,95.01 L811.5,94.37 L813.0,93.73 L814.5,93.09 L816.0,92.45 L816.5,92.24 L818.1,91.56" stroke="#0000ff"/>
</g>
<path d="M86.00,465.5v-8.7M86.00,13.5v8.7M122.50,465.5v-5.4M122.50,13.5v5.4M159.00,465.5v-5.4M159.00,13.5v5.4M195.50,465.5v-5.4M195.50,13.5v5.4M232.00,465.5v-5.4M232.00,13.5v5.4M268.50,465.5v-8.7M268.50,13.5v8.7M305.00,465.5v-5.4M305.00,13.5v5.4M341.50,465.5v-5.4M341.50,13.5v5.4M378.00,465.5v-5.4M378.00,13.5v5.4M414.50,465.5v-5.4M414.50,13.5v5.4M451.00,465.5v-8.7M451.00,13.5v8.7M487.50,465.5v-5.4M487.50,13.5v5.4M524.00,465.5v-5.4M524.00,13.5v5.4M560.50,465.5v-5.4M560.50,13.5v5.4M597.00,465.5v-5.4M597.00,13.5v5.4M633.50,465.5v-8.7M633.50,13.5v8.7M670.00,465.5v-5.4M670.00,13.5v5.4M706.50,465.5v-5.4M706.50,13.5v5.4M743.00,465.5v-5.4M743.00,13.5v5.4M779.50,465.5v-5.4M779.50,13.5v5.4M816.00,465.5v-8.7M816.00,13.5v8.7M85.5,444.00h8.7M816.5,444.00h-8.7M85.5,422.50h5.4M816.5,422.50h-5.4M85.5,401.00h5.4M816.5,401.00h-5.4M85.5,379.50h5.4M816.5,379.50h-5.4M85.5,358.00h8.7M816.5,358.00h-8.7M85.5,336.50h5.4M816.5,336.50h-5.4M85.5,315.00h5.4M816.5,315.00h-5.4M85.5,293.50h5.4M816.5,293.50h-5.4M85.5,272.00h8.7M816.5,272.00h-8.7M85.5,250.50h5.4M816.5,250.50h-5.4M85.5,229.00h5.4M816.5,229.00h-5.4M85.5,207.50h5.4M816.5,207.50h-5.4M85.5,186.00h8.7M816.5,186.00h-8.7M85.5,164.50h5.4M816.5,164.50h-5.4M85.5,143.00h5.4M816.5,143.00h-5.4M85.5,121.50h5.4M816.5,121.50h-5.4M85.5,100.00h8.7M816.5,100.00h-8.7M85.5,78.50h5.4M816.5,78.50h-5.4M85.5,57.00h5.4M816.5,57.00h-5.4M85.5,35.50h5.4M816.5,35.50h-5.4M85.5,14.00h8.7M816.5,14.00h-8.7" stroke="#444" stroke-width="1" fill="none"/>
<rect x="85.5" y="13.5" width="731.0" height="452.0" fill="none" stroke="#666" stroke-width="1"/>
<g id="txt" style="will-change:transform">
<text x="77.3" y="449.9" font-size="21" text-anchor="end">0</text>
<text x="77.3" y="363.9" font-size="21" text-anchor="end">20</text>
<text x="77.3" y="277.9" font-size="21" text-anchor="end">40</text>
<text x="77.3" y="191.9" font-size="21" text-anchor="end">60</text>
<text x="77.3" y="105.9" font-size="21" text-anchor="end">80</text>
<path d="M763,0L583,0L583,1147Q518,1085 412.5,1023Q307,961 223,930L223,1104Q374,1175 487,1276Q600,1377 647,1472L763,1472Z" transform="translate(42.26,19.90) scale(0.010254,-0.010254)" fill="#000"/>
<text x="53.94" y="19.9" font-size="21">00</text>
<text x="84.2" y="490.7" font-size="21" text-anchor="middle">0</text>
<path d="M763,0L583,0L583,1147Q518,1085 412.5,1023Q307,961 223,930L223,1104Q374,1175 487,1276Q600,1377 647,1472L763,1472Z" transform="translate(255.02,490.70) scale(0.010254,-0.010254)" fill="#000"/>
<text x="266.70" y="490.7" font-size="21">0</text>
<text x="449.2" y="490.7" font-size="21" text-anchor="middle">20</text>
<text x="631.7" y="490.7" font-size="21" text-anchor="middle">30</text>
<text x="814.2" y="490.7" font-size="21" text-anchor="middle">40</text>
<text x="761.1" y="92.3" font-size="20.7">k=5</text>
<text x="688.1" y="166.2" font-size="20.7">k=4</text>
<text x="615.1" y="221.8" font-size="20.7">k=3</text>
<text x="542.1" y="287" font-size="20.7">k=2</text>
<text x="289" y="105.4" font-size="21">Δ=3/2,</text>
<text x="364.0" y="105.4" font-size="21">T/</text>
<text x="382.1" y="105.4" font-size="21" font-style="italic">T</text>
<text x="395" y="109.4" font-size="14" font-style="italic" stroke="#000" stroke-width="0.45">c</text>
<text x="404" y="105.4" font-size="21">≈0.5</text>
<text x="6" y="218" font-size="21" font-style="italic">σ</text>
<rect x="3" y="235.3" width="23.7" height="2.2" fill="#000"/>
<text x="2.2" y="266.3" font-size="21" font-style="italic">T</text>
<text x="15" y="270.4" font-size="14" font-style="italic" stroke="#000" stroke-width="0.45">c</text>
<text x="442" y="528" font-size="21" font-style="italic">ω</text>
<rect x="440" y="544.9" width="23.7" height="2.2" fill="#000"/>
<text x="438.8" y="576.4" font-size="21" font-style="italic">T</text>
<text x="451.6" y="579.6" font-size="14" font-style="italic" stroke="#000" stroke-width="0.45">c</text>
</g>
</svg></body></html>
